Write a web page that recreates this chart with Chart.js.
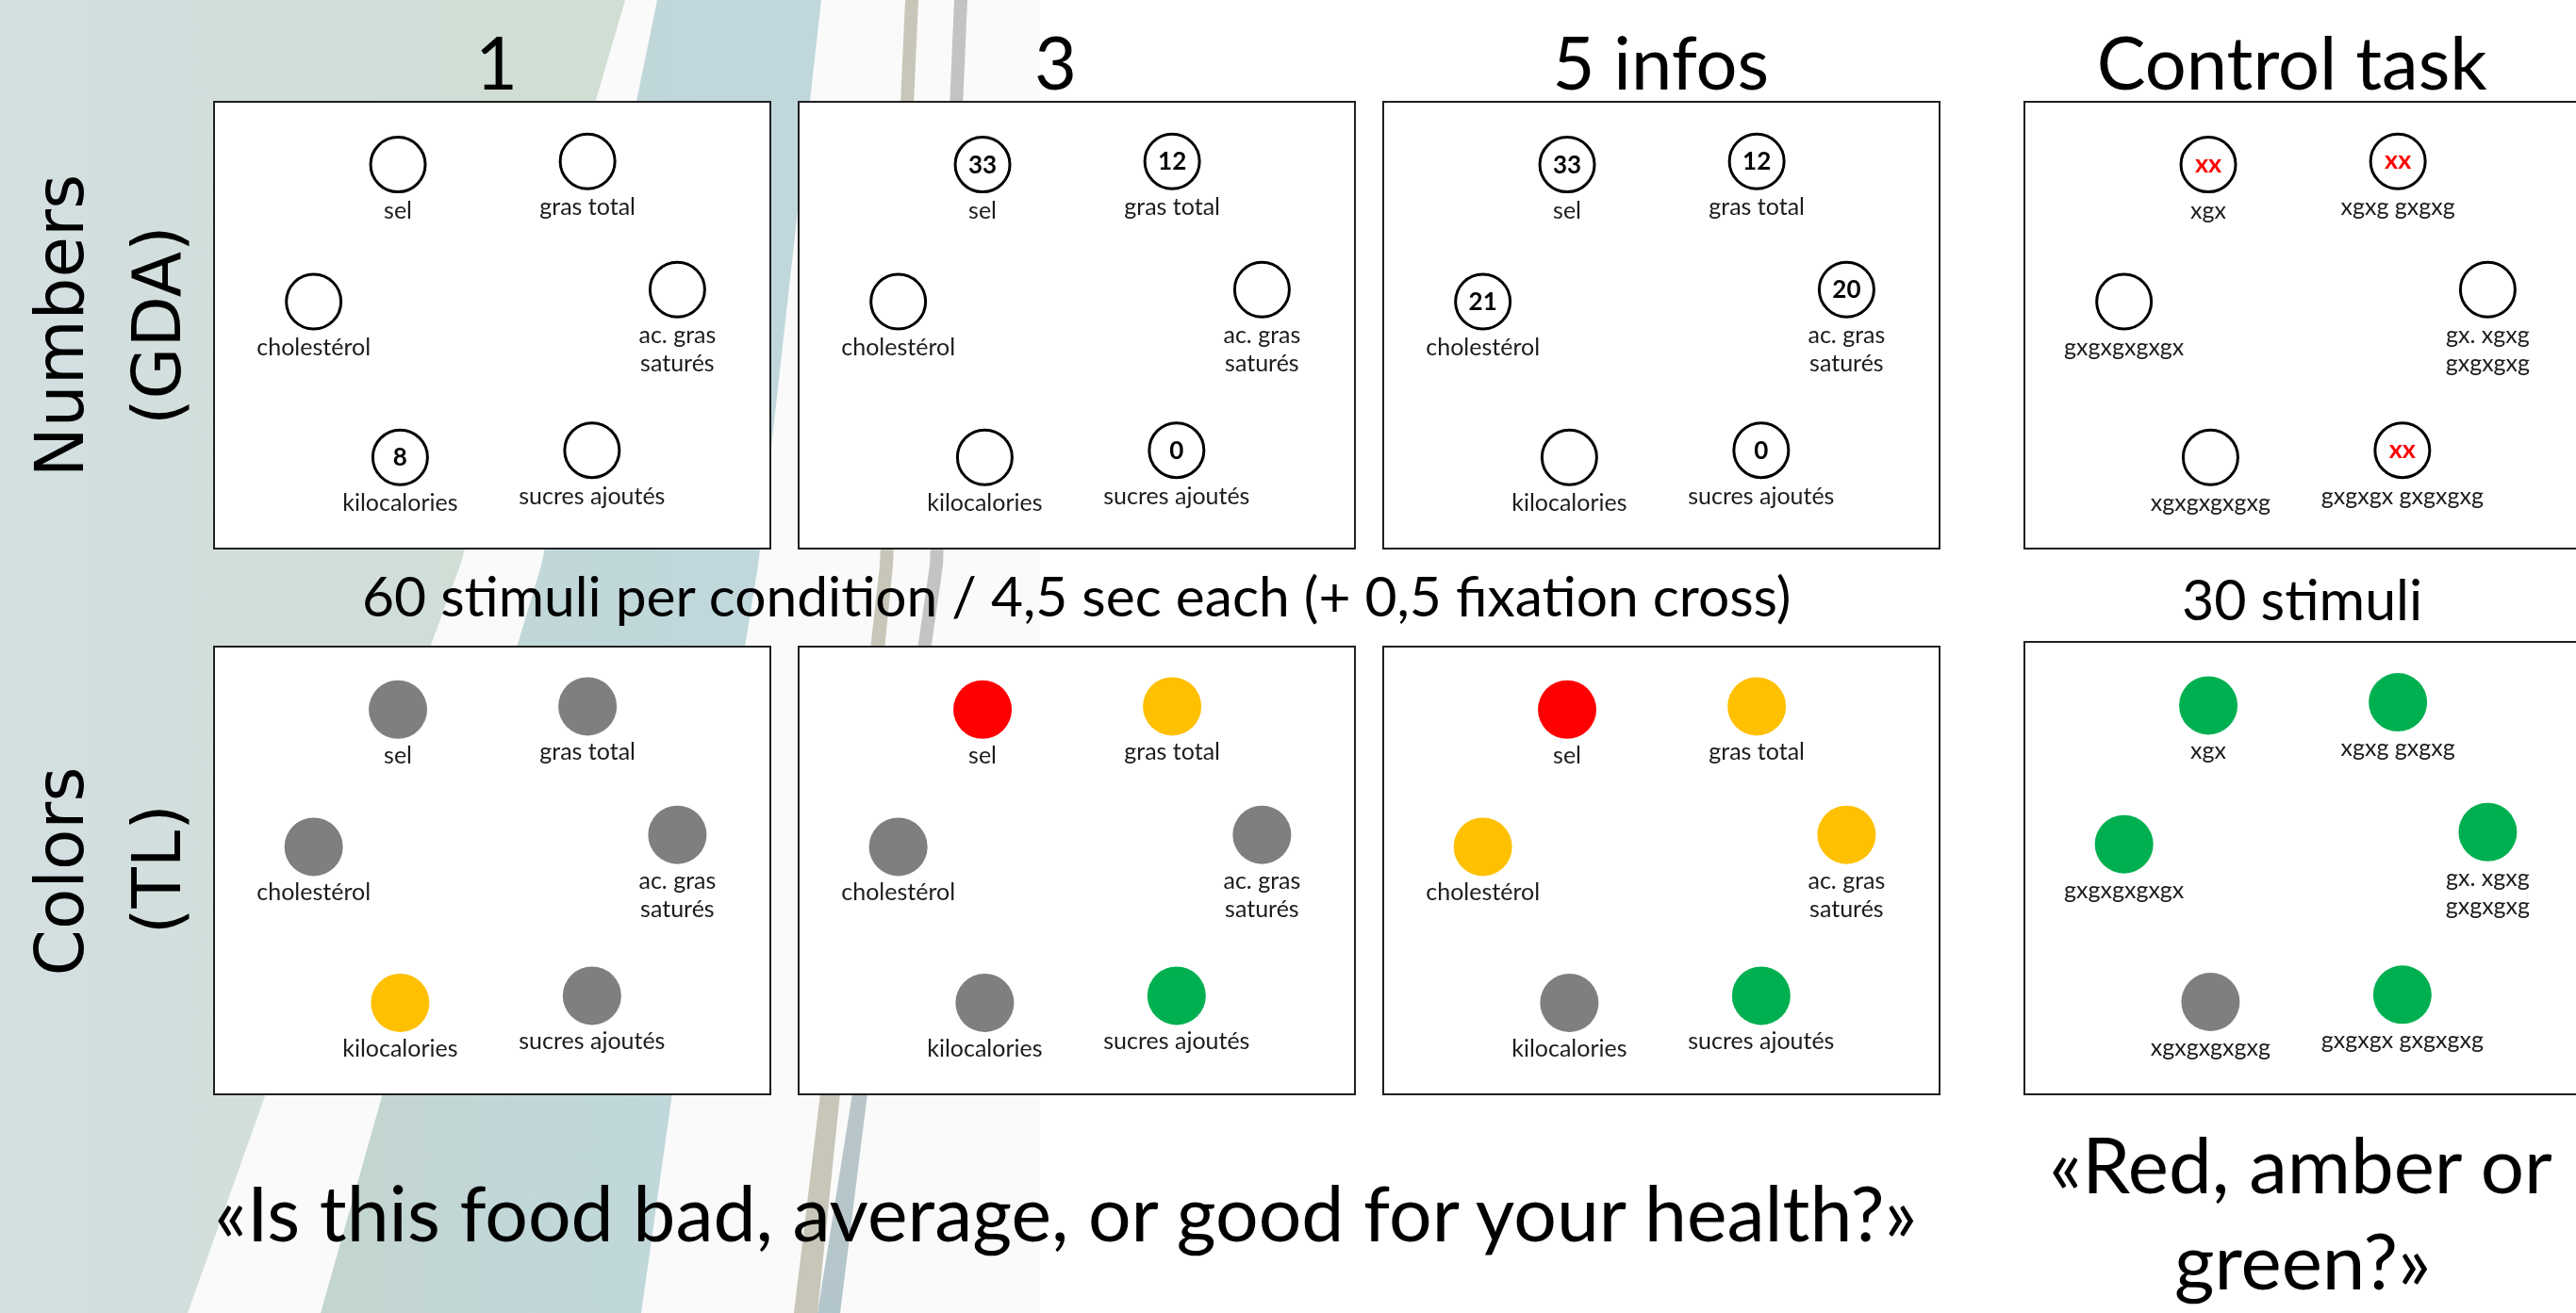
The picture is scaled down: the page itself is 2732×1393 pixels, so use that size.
<!DOCTYPE html>
<html><head><meta charset="utf-8">
<script src="https://cdn.jsdelivr.net/npm/chart.js@4.4.1/dist/chart.umd.min.js"></script>
<style>
html,body{margin:0;padding:0;width:2732px;height:1393px;overflow:hidden;background:#fff;}
#stage{position:relative;width:2732px;height:1393px;overflow:hidden;background:#fff;}
.bg{position:absolute;left:0;top:0;width:2732px;height:1393px;}
.panel{position:absolute;background:#fff;border:2px solid #202020;box-sizing:border-box;}
.panel canvas{display:block;}
.txt{position:absolute;white-space:nowrap;color:#000;margin:0;padding:0;}
</style></head><body>
<div id="stage">
  <div class="bg" style="background:#fafafa;clip-path:polygon(0 0,1103px 0,1103px 1393px,0 1393px)"></div>
  <div class="bg" style="background:linear-gradient(to right,#d3dfe1 0px,#d1ded8 420px,#d0ded3 660px);clip-path:polygon(0 0,663px 0,488px 600px,282px 1160px,199px 1393px,0 1393px)"></div>
  <div class="bg" style="background:linear-gradient(to right,#c4d5cf 340px,#c1d7d8 560px,#c0d8dc 760px);clip-path:polygon(697px 0,871px 0,804px 600px,713px 1160px,680px 1393px,340px 1393px,406px 1160px,574px 600px)"></div>
  <div class="bg" style="background:#c8c6b8;clip-path:polygon(960px 0,974px 0,947px 600px,891px 1160px,867px 1393px,842px 1393px,870px 1160px,933px 600px)"></div>
  <div class="bg" style="background:linear-gradient(to bottom,#c3c3c3,#c2c4c4 60%,#b3c6cc);clip-path:polygon(1012px 0,1026px 0,1000px 600px,920px 1160px,891px 1393px,867px 1393px,904px 1160px,986px 600px)"></div>
</div>
<script>
// ---------------- DATA ----------------
const conditions = ['1', '3', '5 infos', 'Control task'];
const nutrientLabels = ['sel', 'gras total', 'cholestérol', 'ac. gras|saturés', 'kilocalories', 'sucres ajoutés'];
const controlLabels = ['xgx', 'xgxg gxgxg', 'gxgxgxgxgx', 'gx. xgxg|gxgxgxg', 'xgxgxgxgxg', 'gxgxgx gxgxgxg'];
// item locations on the stimulus screen (0..1 screen units, y downward)
const itemX = [0.330, 0.672, 0.178, 0.834, 0.334, 0.680];
const itemY = [0.139, 0.132, 0.447, 0.420, 0.797, 0.781];
// Numbers (GDA) row: value shown inside each circle
const gdaValues = [
  [null, null, null, null, '8', null],
  ['33', '12', null, null, null, '0'],
  ['33', '12', '21', '20', null, '0'],
  ['xx', 'xx', null, null, null, 'xx']
];
// Colors (TL) row: traffic light of each dot
const tlLights = [
  ['grey', 'grey', 'grey', 'grey', 'amber', 'grey'],
  ['red', 'amber', 'grey', 'grey', 'grey', 'green'],
  ['red', 'amber', 'amber', 'amber', 'grey', 'green'],
  ['green', 'green', 'green', 'green', 'grey', 'green']
];
const rowLabels = [['Numbers', '(GDA)'], ['Colors', '(TL)']];
const midNote = '60 stimuli per condition / 4,5 sec each (+ 0,5 fixation cross)';
const controlNote = '30 stimuli';
const questionMain = '«Is this food bad, average, or good for your health?»';
const questionControl = ['«Red, amber or', 'green?»'];

// ---------------- STYLE / LAYOUT ----------------
const lightColors = {red: '#FF0000', amber: '#FFC000', green: '#00B050', grey: '#7F7F7F'};
const stage = document.getElementById('stage');
const panelLeft = [226, 846, 1466, 2146];
const rowTop = [[107, 107, 107, 107], [685, 685, 685, 680]];
const rowH = [[476, 476, 476, 476], [477, 477, 477, 482]];
const PW = 592;

const labelPlugin = {
  id: 'stimLabels',
  afterDatasetsDraw(chart) {
    const o = chart.options.plugins.stimLabels;
    const meta = chart.getDatasetMeta(0);
    const ctx = chart.ctx;
    ctx.save();
    ctx.textAlign = 'center';
    ctx.textBaseline = 'alphabetic';
    meta.data.forEach((el, i) => {
      const lines = o.labels[i].split('|');
      ctx.font = '25px Lato';
      ctx.fillStyle = '#1c1c1c';
      lines.forEach((ln, k) => ctx.fillText(ln, el.x, el.y + 57 + k * 30));
      const v = o.values ? o.values[i] : null;
      if (v !== null && v !== undefined) {
        if (v === 'xx') { ctx.font = 'bold 27px Lato'; ctx.fillStyle = '#FF0000'; ctx.fillText(v, el.x, el.y + 8); }
        else { ctx.font = 'bold 26px Lato'; ctx.fillStyle = '#000'; ctx.fillText(v, el.x, el.y + 9); }
      }
    });
    ctx.restore();
  }
};

function makePanel(row, col) {
  const div = document.createElement('div');
  div.className = 'panel';
  div.style.left = panelLeft[col] + 'px';
  div.style.top = rowTop[row][col] + 'px';
  div.style.width = PW + 'px';
  div.style.height = rowH[row][col] + 'px';
  const cv = document.createElement('canvas');
  cv.width = PW - 4; cv.height = rowH[row][col] - 4;
  div.appendChild(cv);
  stage.appendChild(div);
  const isControl = col === 3;
  const pts = itemX.map((x, i) => ({x: x, y: itemY[i]}));
  const ds = row === 0 ? {
    data: pts, pointRadius: 29, pointHoverRadius: 29, pointBackgroundColor: '#FFFFFF',
    pointBorderColor: '#000000', pointBorderWidth: 3, pointHoverBorderWidth: 3, showLine: false
  } : {
    data: pts, pointRadius: 31, pointHoverRadius: 31,
    pointBackgroundColor: tlLights[col].map(c => lightColors[c]),
    pointBorderWidth: 0, pointHoverBorderWidth: 0, showLine: false
  };
  new Chart(cv, {
    type: 'scatter',
    data: {datasets: [ds]},
    options: {
      responsive: false, animation: false, events: [],
      layout: {padding: 0, autoPadding: false},
      plugins: {
        legend: {display: false}, tooltip: {enabled: false},
        stimLabels: {labels: isControl ? controlLabels : nutrientLabels, values: row === 0 ? gdaValues[col] : null}
      },
      scales: {
        x: {type: 'linear', min: 0, max: 1, display: false},
        y: {type: 'linear', min: 0, max: 1, reverse: true, display: false}
      }
    },
    plugins: [labelPlugin]
  });
}
for (let r = 0; r < 2; r++) for (let c = 0; c < 4; c++) makePanel(r, c);

// ---------------- TEXT ----------------
const mctx = document.createElement('canvas').getContext('2d');
function measure(text, weight, family, size) {
  mctx.font = weight + ' ' + size + 'px ' + family;
  return mctx.measureText(text);
}
function inkW(m) { return m.actualBoundingBoxRight + m.actualBoundingBoxLeft; }
function fitSize(text, width, family, weight) {
  return 100 * width / inkW(measure(text, weight || 'normal', family, 100));
}
function placeText(text, cx, base, size, family, weight) {
  weight = weight || 'normal';
  const m = measure(text, weight, family, size);
  const el = document.createElement('div');
  el.className = 'txt';
  el.textContent = text;
  el.style.font = weight + ' ' + size + 'px ' + family;
  const asc = m.fontBoundingBoxAscent, desc = m.fontBoundingBoxDescent;
  el.style.lineHeight = (asc + desc) + 'px';
  el.style.left = (cx - (m.actualBoundingBoxRight - m.actualBoundingBoxLeft) / 2) + 'px';
  el.style.top = (base - asc) + 'px';
  stage.appendChild(el);
}
function placeRotated(text, cx, cy, size, family) {
  const m = measure(text, 'normal', family, size);
  const el = document.createElement('div');
  el.className = 'txt';
  el.textContent = text;
  el.style.font = size + 'px ' + family;
  const asc = m.fontBoundingBoxAscent, desc = m.fontBoundingBoxDescent;
  el.style.lineHeight = (asc + desc) + 'px';
  const ix = (m.actualBoundingBoxRight - m.actualBoundingBoxLeft) / 2;
  const iy = asc - (m.actualBoundingBoxAscent - m.actualBoundingBoxDescent) / 2;
  el.style.transformOrigin = ix + 'px ' + iy + 'px';
  el.style.transform = 'rotate(-90deg)';
  el.style.left = (cx - ix) + 'px';
  el.style.top = (cy - iy) + 'px';
  stage.appendChild(el);
}
const F = 'Lato';
const titleSize = fitSize(conditions[3], 411, F);
const titleCx = [527, 1119, 1762, 2432];
conditions.forEach((t, i) => placeText(t, titleCx[i], 95, titleSize, F));
placeText(midNote, 1143, 654, fitSize(midNote, 1512, F), F);
placeText(controlNote, 2441, 658, fitSize(controlNote, 250, F), F);
placeText(questionMain, 1134, 1317, fitSize(questionMain, 1805, F), F);
const qs = fitSize(questionControl[0], 531, F);
placeText(questionControl[0], 2443, 1266, qs, F);
placeText(questionControl[1], 2441, 1368, qs, F);

const SF = "'DejaVu Sans'";
const sideSize = fitSize(rowLabels[0][0], 312, SF);
placeRotated(rowLabels[0][0], 62, 344, sideSize, SF);
placeRotated(rowLabels[0][1], 169, 345, sideSize, SF);
placeRotated(rowLabels[1][0], 62, 924, sideSize, SF);
placeRotated(rowLabels[1][1], 169, 922, sideSize, SF);
</script>
</body></html>
